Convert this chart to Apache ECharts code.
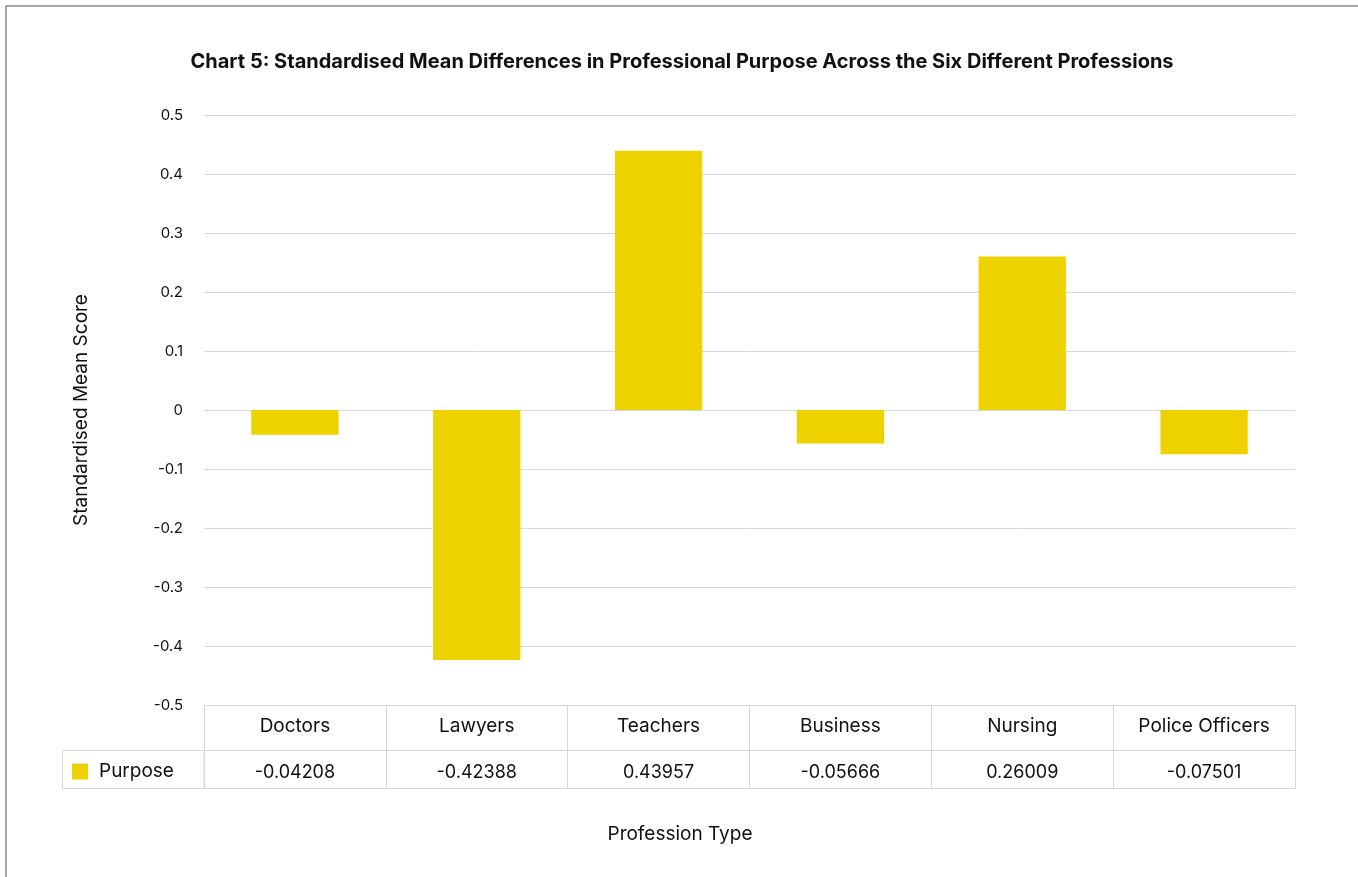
<!DOCTYPE html>
<html><head><meta charset="utf-8">
<script src="https://cdn.jsdelivr.net/npm/echarts@6/dist/echarts.min.js"></script>
<style>html,body{margin:0;padding:0;background:#fff}#c{width:1358px;height:877px}</style>
</head><body><div id="c"></div>
<script>
const categories = ['Doctors','Lawyers','Teachers','Business','Nursing','Police Officers'];
const purposeValues = [-0.04208,-0.42388,0.43957,-0.05666,0.26009,-0.07501];
const seriesName = 'Purpose';
const yTicks = {min:-0.5, max:0.5, interval:0.1};
const titleText = 'Chart 5: Standardised Mean Differences in Professional Purpose Across the Six Different Professions';
const yTitle = 'Standardised Mean Score';
const xTitle = 'Profession Type';

const FONT = 'Inter, "Liberation Sans", Arial, sans-serif';
const GRID = {left:204, right:63, top:115, bottom:172};
const LINE = '#d9d9d9';
const chart = echarts.init(document.getElementById('c'), null, {renderer:'canvas'});
chart.setOption({
  animation:false,
  textStyle:{fontFamily:FONT},
  title:[
    {text:titleText, left:677, textAlign:'center', top:47,
      textStyle:{fontFamily:FONT, fontSize:20, fontWeight:'bold', color:'#111'}},
    {text:xTitle, left:675, textAlign:'center', top:820,
      textStyle:{fontFamily:FONT, fontSize:19, fontWeight:'normal', color:'#111'}}
  ],
  legend:{data:[seriesName], left:72, top:762, padding:0, itemWidth:16, itemHeight:16, icon:'rect', itemGap:10,
    textStyle:{fontFamily:FONT, fontSize:19, color:'#111', padding:[0,0,0,6]}},
  grid:GRID,
  yAxis:{type:'value', min:yTicks.min, max:yTicks.max, interval:yTicks.interval,
    name:yTitle, nameLocation:'middle', nameGap:113, nameRotate:90,
    nameTextStyle:{fontFamily:FONT, fontSize:19, color:'#111'},
    axisLine:{show:false}, axisTick:{show:false},
    splitLine:{lineStyle:{color:LINE, width:1}},
    axisLabel:{fontFamily:FONT, fontSize:15, color:'#111', margin:21,
      formatter:v=>{const r=Math.round(v*10)/10; return r===0?'0':String(r);}}},
  xAxis:[
    {type:'category', data:categories, position:'bottom', offset:0,
      axisLine:{show:true, onZero:false, lineStyle:{color:LINE}},
      axisTick:{show:true, length:45, lineStyle:{color:LINE}},
      axisLabel:{fontFamily:FONT, fontSize:19, color:'#111', margin:12}},
    {type:'category', data:categories, position:'bottom', offset:45,
      axisLine:{show:true, onZero:false, lineStyle:{color:LINE}},
      axisTick:{show:true, length:38, lineStyle:{color:LINE}},
      axisLabel:{fontFamily:FONT, fontSize:18, color:'#111', margin:14,
        formatter:(v,i)=>purposeValues[i].toFixed(5)}},
    {type:'category', data:categories, position:'bottom', offset:83,
      axisLine:{show:true, onZero:false, lineStyle:{color:LINE}},
      axisTick:{show:false}, axisLabel:{show:false}}
  ],
  series:[{name:seriesName, type:'bar', xAxisIndex:0, data:purposeValues, barWidth:'48%',
    itemStyle:{color:'#edd200'}}],
  graphic:[
    {type:'rect', shape:{x:62.5, y:750.5, width:141.5, height:38}, style:{fill:'none', stroke:LINE, lineWidth:1}, z:-1},
    {type:'rect', shape:{x:6, y:6, width:1400, height:900}, style:{fill:'none', stroke:'#8a8a8a', lineWidth:1.5}, z:-2}
  ]
});
</script></body></html>
